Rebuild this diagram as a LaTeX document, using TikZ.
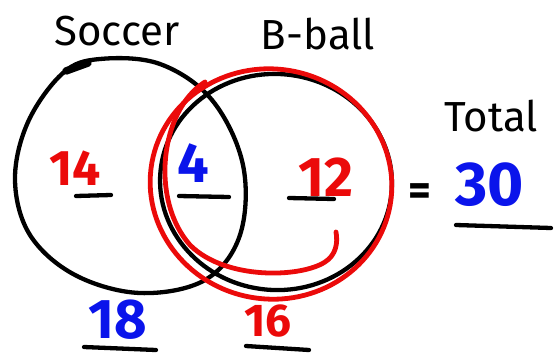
\documentclass[tikz,border=0pt]{standalone}
\usepackage{fontspec}
\setmainfont{Fira Sans}
\definecolor{pred}{RGB}{235,10,10}
\definecolor{pblue}{RGB}{10,20,235}
\tikzset{
  blk/.style={draw=black,line width=4.3pt,line cap=round},
  redl/.style={draw=pred,line width=4.8pt,line cap=round},
  uline/.style={draw=black,line width=4.3pt,line cap=round},
  lbl/.style={inner sep=0pt,font=\fontsize{42}{42}\selectfont},
  num/.style={inner sep=0pt,font=\bfseries\fontsize{56}{56}\selectfont},
}
\begin{document}
\begin{tikzpicture}[x=1pt,y=-1pt]
\useasboundingbox (0,0) rectangle (560,354);
% soccer circle
\draw[blk] plot[smooth cycle,tension=0.6] coordinates {(100,59) (160,64) (212,100) (243,165) (240,235) (205,280) (140,293) (75,275) (30,235) (15,180) (28,122) (63,73)};
\draw[line width=7.5pt,line cap=round] (66,71) -- (88,63);
% b-ball circles
\draw[blk,rotate around={-5:(276,182)}] (276,182) ellipse [x radius=116, y radius=108];
\draw[redl,rotate around={-10:(271,184)}] (271,184) ellipse [x radius=121, y radius=115];
\draw[redl] (205,82) .. controls (160,110) and (150,200) .. (190,245)
  .. controls (225,280) and (300,278) .. (325,262)
  .. controls (336,255) and (338,243) .. (336,232);
% labels
\node[lbl] (soccer) at (117,31) {Soccer};
\node[lbl] (bball) at (318,34) {B-ball};
\node[lbl] (total) at (491,116) {Total};
% numbers
\node[num,text=pred,font=\bfseries\fontsize{50}{50}\selectfont] (n14) at (75,168) {14};
\node[num,text=pblue] (n4) at (193,163) {4};
\node[num,text=pred] (n12) at (326,177) {12};
\node[num,font=\bfseries\fontsize{44}{44}\selectfont] (eq) at (420,195) {=};
\node[num,text=pblue,font=\bfseries\fontsize{62}{62}\selectfont] (n30) at (490,185) {30};
\node[num,text=pblue] (n18) at (118,320) {18};
\node[num,text=pred,font=\bfseries\fontsize{46}{46}\selectfont] (n16) at (268,321) {16};
% underlines
\coordinate (u14a) at (76,196); \coordinate (u14b) at (111,195);
\coordinate (u4a) at (179,196); \coordinate (u4b) at (229,197);
\coordinate (u12a) at (289,198); \coordinate (u12b) at (334,199);
\coordinate (u30a) at (456,225); \coordinate (u30b) at (551,228);
\coordinate (u18a) at (84,347); \coordinate (u18b) at (156,350);
\coordinate (u16a) at (246,346); \coordinate (u16b) at (309,350);
\draw[uline] (u14a) -- (u14b);
\draw[uline] (u4a) -- (u4b);
\draw[uline] (u12a) -- (u12b);
\draw[uline] (u30a) -- (u30b);
\draw[uline] (u18a) -- (u18b);
\draw[uline] (u16a) -- (u16b);
\end{tikzpicture}
\end{document}
